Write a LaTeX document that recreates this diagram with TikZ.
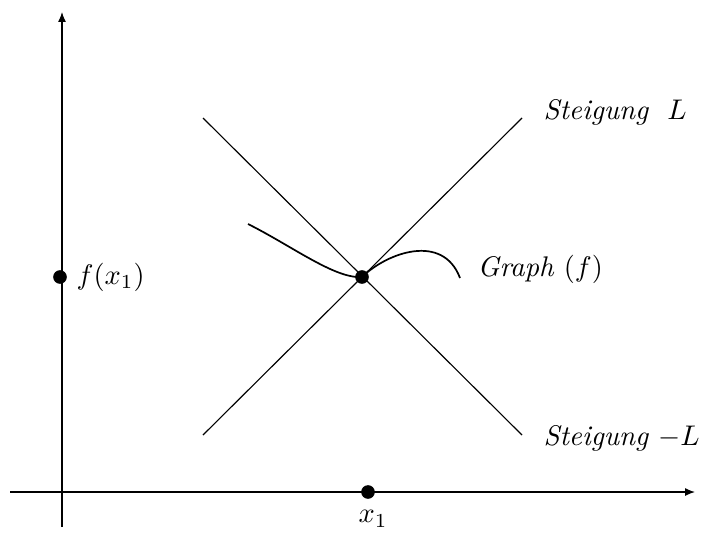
\documentclass[tikz,border=0pt]{standalone}
\usetikzlibrary{arrows.meta}
\begin{document}
\begin{tikzpicture}[x=0.352pt,y=-0.352pt,
  axis/.style={line width=0.45pt,-{Latex[length=3.5pt,width=2.8pt]}},
  slope/.style={line width=0.4pt},
  graphline/.style={line width=0.6pt},
  dot/.style={circle,fill=black,inner sep=0pt,minimum size=4.8pt},
  lab/.style={inner sep=0pt}]
\useasboundingbox (0,0) rectangle (701,537);
\coordinate (xs) at (10,492);
\coordinate (xe) at (695,492);
\coordinate (ys) at (62,527);
\coordinate (ye) at (62,12);
\draw[axis] (xs) -- (xe);
\draw[axis] (ys) -- (ye);
\coordinate (a1) at (203,118);
\coordinate (a2) at (522,435);
\coordinate (b1) at (203,435);
\coordinate (b2) at (522,118);
\draw[slope] (a1) -- (a2);
\draw[slope] (b1) -- (b2);
\node[dot] (P) at (362,277) {};
\coordinate (cl) at (248,224);
\coordinate (cr) at (460,278);
\draw[graphline] (cl) .. controls (292,246) and (335,279) .. (P.center)
  .. controls (388,252) and (443,233) .. (cr);
\node[dot] (fy) at (60,277) {};
\node[dot] (xx) at (368,492) {};
\node[lab,anchor=west] (fl) at (76,277) {$f(x_1)$};
\node[lab] (xl) at (373,519) {$x_1$};
\node[lab,anchor=west] (gl) at (477,269) {\textit{Graph} $(f)$};
\node[lab,anchor=west] (s1) at (543,112) {\textit{Steigung}\hspace{6.5pt}$L$};
\node[lab,anchor=west] (s2) at (543,438) {\textit{Steigung} $-L$};
\end{tikzpicture}
\end{document}
